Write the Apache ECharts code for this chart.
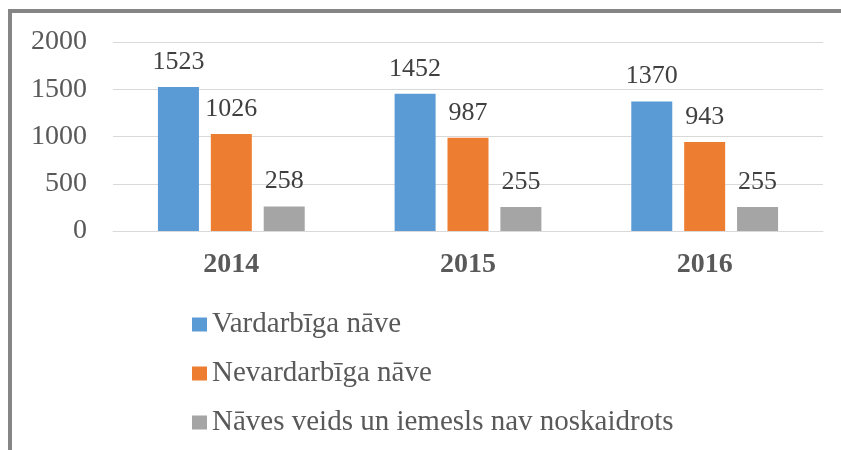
<!DOCTYPE html>
<html>
<head>
<meta charset="utf-8">
<script src="https://cdn.jsdelivr.net/npm/echarts@6/dist/echarts.min.js"></script>
<style>
html,body{margin:0;padding:0;background:#fff;}
#c{width:841px;height:450px;}
</style>
</head>
<body>
<div id="c"></div>
<script>
var categories = ['2014', '2015', '2016'];
var seriesNames = ['Vardarbīga nāve', 'Nevardarbīga nāve', 'Nāves veids un iemesls nav noskaidrots'];
var violent = [1523, 1452, 1370];
var nonViolent = [1026, 987, 943];
var unknown = [258, 255, 255];
var yTicks = [0, 500, 1000, 1500, 2000];
var colors = ['#5b9bd5', '#ed7d31', '#a5a5a5'];

var font = '"Liberation Serif", "Times New Roman", serif';
var chart = echarts.init(document.getElementById('c'), null, {renderer: 'canvas'});
var seriesData = [violent, nonViolent, unknown];
var series = seriesData.map(function (d, i) {
  return {
    name: seriesNames[i],
    type: 'bar',
    data: d,
    barWidth: 41,
    barGap: '29%',
    itemStyle: {color: colors[i]},
    label: {
      show: true,
      position: 'top',
      distance: 12,
      color: '#404040',
      fontFamily: font,
      fontSize: 26
    }
  };
});
chart.setOption({
  animation: false,
  backgroundColor: '#fff',
  graphic: [{
    type: 'polyline',
    shape: {points: [[10, 460], [10, 11], [860, 11]]},
    style: {stroke: '#858585', lineWidth: 4, fill: null}
  }],
  grid: {left: 113, right: 18, top: 42, bottom: 219},
  legend: {
    orient: 'vertical',
    left: 192,
    top: 310,
    padding: 0,
    itemWidth: 15,
    itemHeight: 14,
    itemGap: 20,
    icon: 'rect',
    textStyle: {fontFamily: font, fontSize: 29, color: '#595959', padding: [0, 0, 0, 0]},
    data: seriesNames
  },
  xAxis: {
    type: 'category',
    data: categories,
    axisLine: {lineStyle: {color: '#d9d9d9', width: 1}},
    axisTick: {show: false},
    axisLabel: {margin: 20, fontFamily: font, fontSize: 28, fontWeight: 'bold', color: '#595959'}
  },
  yAxis: {
    type: 'value',
    min: yTicks[0],
    max: yTicks[yTicks.length - 1],
    interval: yTicks[1] - yTicks[0],
    axisLine: {show: false},
    axisTick: {show: false},
    splitLine: {lineStyle: {color: '#d9d9d9', width: 1}},
    axisLabel: {margin: 26, fontFamily: font, fontSize: 28, color: '#595959',
      formatter: function (v) { return String(v); }}
  },
  series: series
});
</script>
</body>
</html>
